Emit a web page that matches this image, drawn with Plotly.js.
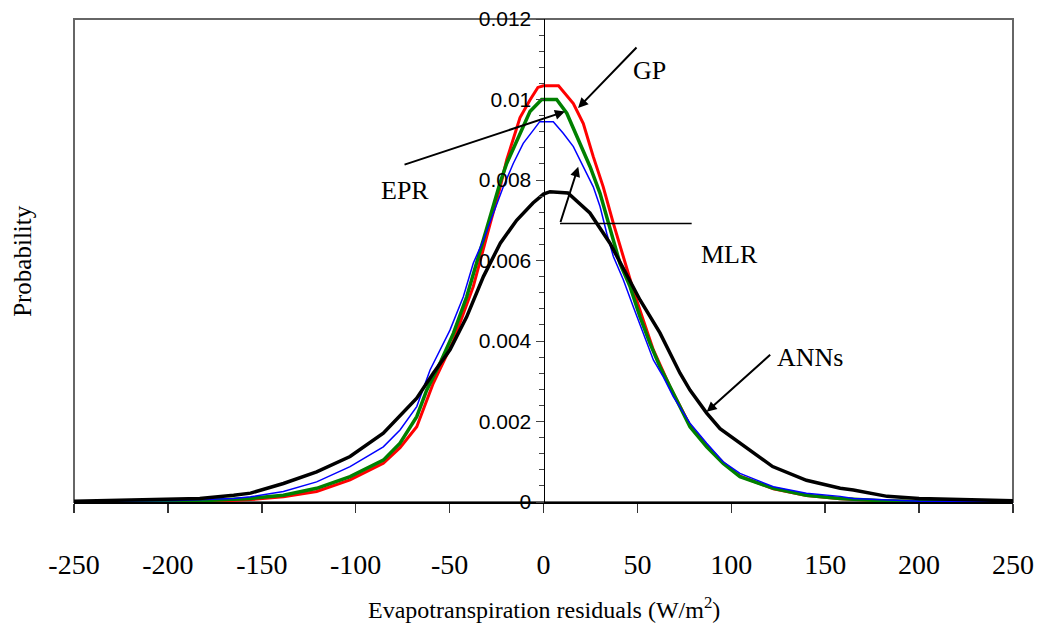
<!DOCTYPE html>
<html>
<head>
<meta charset="utf-8">
<script src="https://cdn.plot.ly/plotly-3.0.1.min.js"></script>
<style>
html,body{margin:0;padding:0;background:#fff;}
#chart{width:1037px;height:634px;}
</style>
</head>
<body>
<div id="chart"></div>
<script>
// ANNs (black)
const annX = [-250,-227,-200,-183,-165,-156,-138.5,-120.8,-103,-85.3,-67.5,-58.7,-49.8,-40.9,-32,-23,-14.3,-5.6,0,3.5,13,24.7,35.4,51.4,62,72.7,78,86.9,94,104.6,122,140,158,165,183,200,239,250];
const annY = [0.00002,0.00005,0.00007,0.00009,0.00017,0.00022,0.00046,0.00075,0.00113,0.00171,0.00258,0.0032,0.00378,0.0046,0.0056,0.00643,0.0070,0.00743,0.00765,0.00771,0.00768,0.00718,0.00643,0.00502,0.0042,0.0032,0.00278,0.00221,0.00182,0.00147,0.00088,0.00054,0.00034,0.0003,0.00014,0.00009,0.00005,0.00003];
// GP (red)
const gpX = [-250,-200,-170,-156,-138.5,-120.8,-103,-85.3,-76.4,-67.5,-58.7,-48,-37.4,-28.5,-23.2,-19.6,-12.5,-7.2,-3,0,8,15.9,21.2,26.5,31.8,37.2,42.5,47.8,53.1,58.5,67.4,78,86.9,95.7,104.6,122.4,140,158,180,200,250];
const gpY = [0,0.00001,0.00003,0.00006,0.00013,0.00026,0.00055,0.00096,0.00135,0.00187,0.00295,0.0040,0.00535,0.0069,0.0078,0.0085,0.00955,0.00999,0.0103,0.01034,0.01034,0.0099,0.0094,0.00858,0.00783,0.00692,0.0061,0.00527,0.00452,0.00378,0.00286,0.0019,0.0014,0.00097,0.00064,0.00033,0.00016,0.00008,0.00003,0.00001,0];
// EPR (green)
const eprX = [-250,-200,-183,-156,-138.5,-120.8,-103,-85.3,-76.4,-67.5,-62.2,-55.1,-48,-40.9,-33.8,-28.5,-23.2,-19.6,-12.5,-7.2,-1,7,12.4,19.4,24.8,30.1,35.4,40.7,46.1,51.4,56.7,62,69.1,78,86.9,95.7,104.6,122.4,140,158,180,200,250];
const eprY = [0,0.00001,0.00003,0.00009,0.00017,0.00034,0.00063,0.00104,0.00146,0.00212,0.00278,0.00345,0.00419,0.0051,0.00626,0.00709,0.00792,0.00841,0.00916,0.0097,0.0100,0.0100,0.00966,0.00891,0.00833,0.00767,0.00676,0.00593,0.00535,0.0046,0.00394,0.00336,0.0027,0.00187,0.00137,0.00096,0.00063,0.00034,0.00017,0.00009,0.00003,0.00001,0];
// MLR (blue)
const mlrX = [-250,-196,-165,-156,-138.5,-120.8,-103,-85.3,-76.4,-67.5,-60.4,-55.1,-49.8,-42.7,-37.4,-32,-26.7,-21.4,-16.1,-10.8,-5.4,-2,5.2,10.5,15.9,21.2,26.5,30.1,33.7,37.2,42.5,47.8,53.1,58.5,63.8,69.1,78,86.9,95.7,104.6,122.4,140,158,165,200,250];
const mlrY = [0.00002,0.00004,0.00009,0.00013,0.00026,0.0005,0.00088,0.00137,0.00179,0.00237,0.00328,0.00378,0.00427,0.0051,0.00593,0.00651,0.00717,0.00783,0.00841,0.00891,0.00924,0.00945,0.00945,0.00916,0.00883,0.00833,0.00783,0.00734,0.00667,0.0061,0.00552,0.00485,0.00419,0.00353,0.00311,0.00262,0.00196,0.00146,0.001,0.00071,0.00038,0.00022,0.00014,0.00009,0.00002,0.00001];

const xTickVals = [-250,-200,-150,-100,-50,0,50,100,150,200,250];
const xTickText = ["-250","-200","-150","-100","-50","0","50","100","150","200","250"];

const traces = [
  {x: gpX, y: gpY, mode:'lines', line:{color:'#ff0000', width:3}, name:'GP'},
  {x: eprX, y: eprY, mode:'lines', line:{color:'#008000', width:3.5}, name:'EPR'},
  {x: mlrX, y: mlrY, mode:'lines', line:{color:'#0000ff', width:1.5}, name:'MLR'},
  {x: annX, y: annY, mode:'lines', line:{color:'#000000', width:3.5}, name:'ANNs'}
];

const serif = 'Liberation Serif, Times New Roman, serif';
const labFont = {family: serif, size: 26, color: '#000'};
const arrowCommon = {xref:'x', yref:'y', axref:'x', ayref:'y', text:'', showarrow:true, arrowhead:2, arrowsize:1, arrowwidth:2, arrowcolor:'#000'};

const layout = {
  width: 1037, height: 634,
  margin: {l:74, r:24, t:19, b:132},
  paper_bgcolor:'#fff', plot_bgcolor:'#fff',
  showlegend:false,
  xaxis: {
    range:[-250,250], tickvals:xTickVals, ticktext:xTickText,
    showgrid:false, zeroline:false, showline:true, linecolor:'#000', linewidth:1.5,
    ticks:'outside', ticklen:9, tickcolor:'#333', tickwidth:1.5,
    ticklabelstandoff: 28,
    tickfont:{family:serif, size:28, color:'#000'}
  },
  yaxis: {
    range:[0,0.012], dtick:0.002, tick0:0,
    anchor:'free', position:0.5, side:'left',
    showgrid:false, zeroline:false, showline:true, linecolor:'#000', linewidth:1,
    ticks:'outside', ticklen:8, tickcolor:'#444', tickwidth:1,
    minor:{dtick:0.0004, ticks:'outside', ticklen:5, tickcolor:'#444', tickwidth:1},
    tickfont:{family:'Liberation Sans, Arial, sans-serif', size:21, color:'#000'}
  },
  shapes: [
    {type:'rect', xref:'paper', yref:'paper', x0:0, x1:1, y0:0, y1:1, line:{color:'#666', width:2}, layer:'below'},
    {type:'line', xref:'x', yref:'y', x0:8.8, x1:78.9, y0:0.00692, y1:0.00692, line:{color:'#000', width:1.5}}
  ],
  annotations: [
    {xref:'paper', yref:'paper', x:0.5, y:-0.22, xanchor:'center', yanchor:'middle', showarrow:false,
     text:'Evapotranspiration residuals (W/m<sup>2</sup>)', font:{family:serif, size:24, color:'#000'}},
    {xref:'paper', yref:'paper', x:-0.055, y:0.5, xanchor:'center', yanchor:'middle', textangle:-90, showarrow:false,
     text:'Probability', font:{family:serif, size:25, color:'#000'}},
    {xref:'x', yref:'y', x:56.7, y:0.01073, text:'GP', showarrow:false, font:labFont},
    {xref:'x', yref:'y', x:-73.7, y:0.00775, text:'EPR', showarrow:false, font:labFont},
    {xref:'x', yref:'y', x:99.3, y:0.00614, text:'MLR', showarrow:false, font:labFont},
    {xref:'x', yref:'y', x:141.9, y:0.00358, text:'ANNs', showarrow:false, font:labFont},
    Object.assign({}, arrowCommon, {x:18.4, y:0.00979, ax:50.3, ay:0.01133}),
    Object.assign({}, arrowCommon, {x:11.4, y:0.0097, ax:-74.8, ay:0.00837}),
    Object.assign({}, arrowCommon, {x:18.5, y:0.00833, ax:8.8, ay:0.00692}),
    Object.assign({}, arrowCommon, {x:86.9, y:0.00224, ax:121.5, ay:0.00369})
  ]
};

Plotly.newPlot('chart', traces, layout, {displayModeBar:false, staticPlot:true});
</script>
</body>
</html>
